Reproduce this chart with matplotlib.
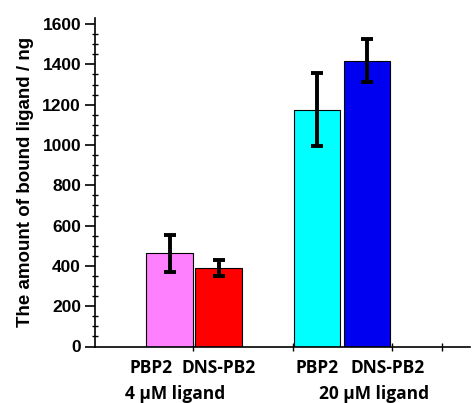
import matplotlib
matplotlib.use("Agg")
import matplotlib.pyplot as plt
from matplotlib.ticker import MultipleLocator

# Data
proteins = ["PBP2", "DNS-PB2", "PBP2", "DNS-PB2"]
groups = ["4 \u03bcM ligand", "20 \u03bcM ligand"]
values = [462, 390, 1175, 1418]
errors = [92, 40, 180, 106]
colors = ["#FF80FF", "#FF0000", "#00FFFF", "#0000F0"]
yticks = [0, 200, 400, 600, 800, 1000, 1200, 1400, 1600]

positions = [0.745, 1.235, 2.22, 2.72]
label_x = [0.56, 1.235, 2.22, 2.93]
group_x = [0.80, 2.79]

fig = plt.figure(figsize=(4.72, 4.03), dpi=100)
ax = fig.add_axes([95/472, 1 - 346.5/403, 375/472, (346.5 - 18)/403])

ax.bar(positions, values, width=0.465, color=colors, edgecolor="black", linewidth=0.8, zorder=2)
ax.errorbar(positions, values, yerr=errors, fmt="none", ecolor="black",
            elinewidth=2.8, capsize=4, capthick=2.8, zorder=3)

ax.set_xlim(0, 3.75)
ax.set_ylim(0, 1630)
ax.set_yticks(yticks)
ax.yaxis.set_minor_locator(MultipleLocator(50))
ax.set_xticks([0.98, 1.98, 2.97, 3.47])
ax.set_xticklabels([])

for s in ["top", "right"]:
    ax.spines[s].set_visible(False)
ax.spines["left"].set_linewidth(1.2)
ax.spines["bottom"].set_linewidth(1.2)

ax.tick_params(axis="y", which="major", direction="out", length=7, width=1.2, pad=3)
ax.tick_params(axis="y", which="minor", direction="inout", length=5, width=1.0)
ax.tick_params(axis="x", which="major", direction="inout", length=6, width=1.0)

for lab in ax.get_yticklabels():
    lab.set_fontfamily("Liberation Sans")
    lab.set_fontweight("bold")
    lab.set_fontsize(12.5)

ax.set_ylabel("The amount of bound ligand / ng", fontfamily="Liberation Sans",
              fontweight="bold", fontsize=13.5, labelpad=6)

trans = ax.get_xaxis_transform()
for x, t in zip(label_x, proteins):
    ax.text(x, -0.065, t, transform=trans, ha="center", va="center",
            fontfamily="Open Sans", fontweight="bold", fontsize=12.5)
for x, t in zip(group_x, groups):
    ax.text(x, -0.145, t, transform=trans, ha="center", va="center",
            fontfamily="Open Sans", fontweight="bold", fontsize=12.5)

fig.savefig("out.png", dpi=100)
